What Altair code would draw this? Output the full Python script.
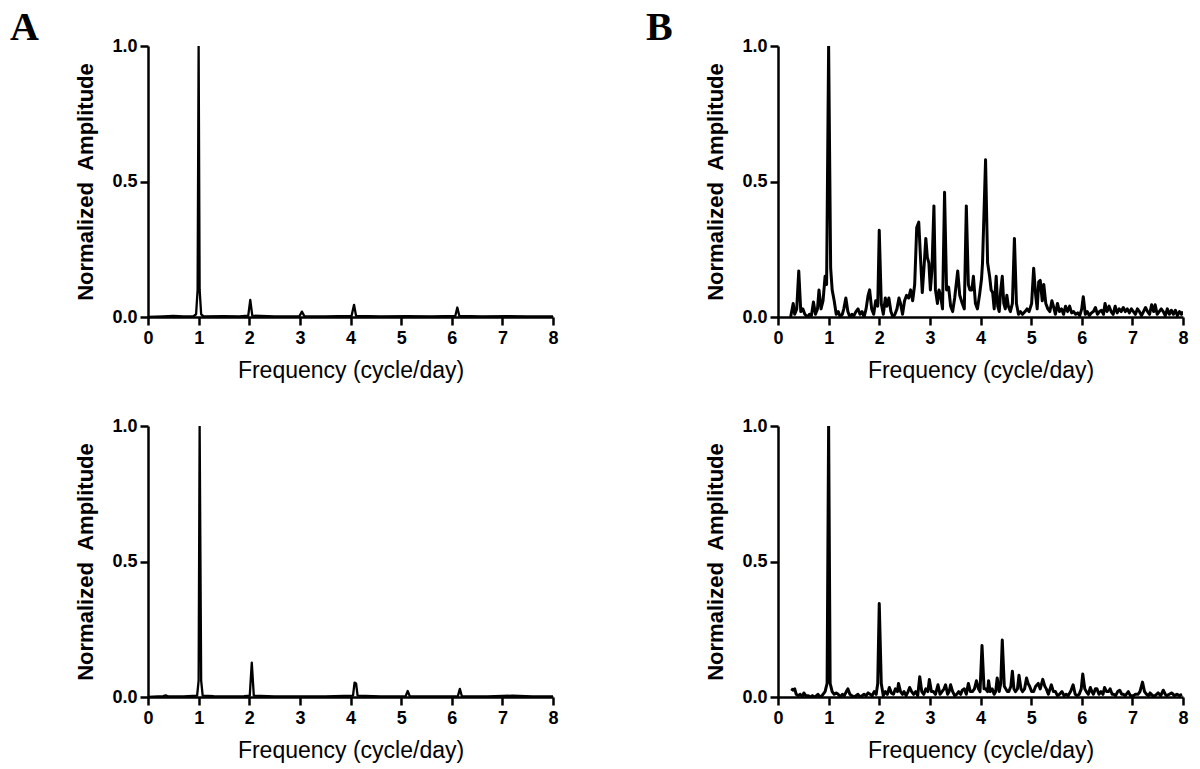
import altair as alt
import pandas as pd

# ---------------- data ----------------
a_top_freq = [0.0, 0.3, 0.5, 0.7, 0.9, 0.95, 0.98, 1.0, 1.02, 1.05, 1.1, 1.5, 1.8, 1.98, 2.02, 2.06,
              2.5, 2.99, 3.04, 3.09, 3.5, 4.02, 4.07, 4.11, 4.6, 5.1, 5.6, 6.07, 6.11, 6.15, 6.6,
              7.1, 7.5, 8.0]
a_top_amp = [0.0, 0.002, 0.004, 0.002, 0.003, 0.01, 0.1, 1.0, 0.1, 0.01, 0.002, 0.003, 0.002, 0.005,
             0.063, 0.005, 0.002, 0.003, 0.02, 0.003, 0.002, 0.004, 0.045, 0.004, 0.002, 0.003,
             0.002, 0.004, 0.035, 0.004, 0.002, 0.003, 0.002, 0.002]

a_bot_freq = [0.0, 0.3, 0.35, 0.4, 0.7, 0.97, 1.0, 1.02, 1.05, 1.08, 1.3, 1.6, 1.9, 2.01, 2.05,
              2.09, 2.5, 3.0, 3.5, 4.05, 4.08, 4.11, 4.14, 4.6, 5.09, 5.13, 5.17, 5.6, 6.12,
              6.16, 6.2, 6.7, 7.2, 7.6, 8.0]
a_bot_amp = [0.0, 0.003, 0.006, 0.002, 0.002, 0.005, 0.06, 1.0, 0.06, 0.005, 0.003, 0.002, 0.003,
             0.005, 0.127, 0.005, 0.002, 0.002, 0.002, 0.005, 0.053, 0.05, 0.005, 0.002, 0.003,
             0.022, 0.003, 0.002, 0.003, 0.03, 0.003, 0.002, 0.005, 0.002, 0.002]

b_top_freq = [0.25, 0.30, 0.33, 0.37, 0.41, 0.45, 0.49, 0.53, 0.58, 0.62, 0.66, 0.70, 0.74, 0.78,
              0.81, 0.85, 0.89, 0.93, 0.96, 1.00, 1.04, 1.07, 1.11, 1.15, 1.19, 1.23, 1.27, 1.30,
              1.34, 1.38, 1.42, 1.46, 1.50, 1.54, 1.58, 1.62, 1.66, 1.70, 1.74, 1.78, 1.81, 1.85,
              1.89, 1.93, 1.97, 2.00, 2.04, 2.08, 2.12, 2.15, 2.19, 2.23, 2.27, 2.31, 2.35, 2.39,
              2.42, 2.46, 2.50, 2.54, 2.58, 2.62, 2.66, 2.70, 2.74, 2.78, 2.82, 2.85, 2.89, 2.92,
              2.95, 2.98, 3.01, 3.04, 3.08, 3.11, 3.15, 3.18, 3.21, 3.25, 3.29, 3.33, 3.37, 3.41,
              3.45, 3.49, 3.55, 3.59, 3.64, 3.68, 3.72, 3.76, 3.79, 3.83, 3.86, 3.90, 3.94, 3.98,
              4.02, 4.04, 4.10, 4.14, 4.18, 4.21, 4.24, 4.27, 4.31, 4.34, 4.37, 4.40, 4.43, 4.46,
              4.49, 4.52, 4.55, 4.59, 4.63, 4.67, 4.71, 4.75, 4.79, 4.83, 4.88, 4.92, 4.96, 5.01,
              5.05, 5.09, 5.12, 5.15, 5.18, 5.22, 5.25, 5.29, 5.33, 5.37, 5.41, 5.44, 5.48, 5.52,
              5.56, 5.60, 5.64, 5.68, 5.72, 5.76, 5.80, 5.84, 5.88, 5.92, 5.96, 6.00, 6.03, 6.07,
              6.11, 6.15, 6.19, 6.23, 6.27, 6.31, 6.35, 6.39, 6.43, 6.46, 6.50, 6.54, 6.58, 6.62,
              6.66, 6.70, 6.74, 6.78, 6.82, 6.86, 6.90, 6.94, 6.98, 7.02, 7.06, 7.10, 7.14, 7.18,
              7.22, 7.26, 7.30, 7.34, 7.38, 7.42, 7.45, 7.49, 7.53, 7.57, 7.61, 7.65, 7.69, 7.73,
              7.77, 7.81, 7.85, 7.89, 7.93, 7.97, 8.00]
b_top_amp = [0.0, 0.05, 0.01, 0.03, 0.17, 0.02, 0.03, 0.01, 0.0, 0.01, 0.005, 0.055, 0.01, 0.03,
             0.10, 0.03, 0.06, 0.15, 0.12, 1.00, 0.18, 0.10, 0.06, 0.01, 0.02, 0.0, 0.01, 0.03,
             0.07, 0.02, 0.0, 0.01, 0.005, 0.02, 0.03, 0.01, 0.02, 0.0, 0.03, 0.08, 0.10, 0.03,
             0.01, 0.06, 0.04, 0.32, 0.05, 0.01, 0.07, 0.04, 0.07, 0.02, 0.0, 0.01, 0.03, 0.07,
             0.05, 0.01, 0.06, 0.08, 0.07, 0.10, 0.06, 0.12, 0.33, 0.35, 0.20, 0.09, 0.20, 0.29,
             0.22, 0.20, 0.10, 0.17, 0.41, 0.10, 0.05, 0.10, 0.08, 0.03, 0.46, 0.10, 0.11, 0.04,
             0.02, 0.07, 0.17, 0.08, 0.05, 0.03, 0.41, 0.12, 0.10, 0.10, 0.15, 0.05, 0.03, 0.08,
             0.14, 0.20, 0.58, 0.20, 0.15, 0.10, 0.09, 0.03, 0.15, 0.04, 0.02, 0.10, 0.15, 0.05,
             0.03, 0.08, 0.04, 0.02, 0.05, 0.29, 0.05, 0.01, 0.02, 0.01, 0.02, 0.03, 0.02, 0.05,
             0.18, 0.08, 0.03, 0.13, 0.135, 0.06, 0.12, 0.05, 0.03, 0.02, 0.06, 0.04, 0.01, 0.05,
             0.02, 0.03, 0.01, 0.04, 0.02, 0.04, 0.015, 0.02, 0.01, 0.015, 0.005, 0.03, 0.075, 0.01,
             0.02, 0.005, 0.015, 0.02, 0.035, 0.01, 0.02, 0.025, 0.01, 0.05, 0.02, 0.04, 0.02, 0.01,
             0.04, 0.015, 0.03, 0.02, 0.035, 0.02, 0.03, 0.015, 0.03, 0.02, 0.01, 0.03, 0.02, 0.005,
             0.02, 0.035, 0.02, 0.01, 0.045, 0.02, 0.045, 0.01, 0.02, 0.03, 0.02, 0.005, 0.03, 0.01,
             0.025, 0.01, 0.025, 0.005, 0.02, 0.01, 0.02]

b_bot_freq = [0.26, 0.30, 0.33, 0.36, 0.40, 0.44, 0.48, 0.51, 0.55, 0.60, 0.64, 0.68, 0.72, 0.76,
              0.79, 0.83, 0.87, 0.93, 0.97, 1.00, 1.03, 1.07, 1.11, 1.15, 1.19, 1.23, 1.27, 1.31,
              1.35, 1.38, 1.42, 1.46, 1.50, 1.54, 1.58, 1.62, 1.66, 1.70, 1.74, 1.78, 1.82, 1.86,
              1.90, 1.94, 1.97, 2.00, 2.04, 2.08, 2.12, 2.16, 2.20, 2.24, 2.28, 2.32, 2.36, 2.38,
              2.42, 2.46, 2.49, 2.53, 2.57, 2.60, 2.64, 2.68, 2.72, 2.76, 2.80, 2.84, 2.88, 2.92,
              2.96, 2.99, 3.03, 3.07, 3.11, 3.16, 3.20, 3.24, 3.28, 3.31, 3.35, 3.38, 3.41, 3.45,
              3.49, 3.53, 3.57, 3.61, 3.64, 3.68, 3.72, 3.76, 3.80, 3.84, 3.88, 3.92, 3.96, 3.99,
              4.03, 4.07, 4.10, 4.14, 4.16, 4.19, 4.23, 4.27, 4.30, 4.33, 4.37, 4.40, 4.43, 4.47,
              4.50, 4.53, 4.56, 4.60, 4.63, 4.66, 4.69, 4.73, 4.76, 4.80, 4.83, 4.87, 4.91, 4.94,
              4.97, 5.01, 5.05, 5.09, 5.14, 5.18, 5.23, 5.27, 5.30, 5.34, 5.40, 5.44, 5.48, 5.52,
              5.56, 5.61, 5.65, 5.69, 5.73, 5.78, 5.83, 5.87, 5.91, 5.95, 5.99, 6.02, 6.06, 6.09,
              6.13, 6.17, 6.20, 6.23, 6.27, 6.30, 6.34, 6.38, 6.42, 6.45, 6.49, 6.53, 6.56, 6.60,
              6.63, 6.67, 6.71, 6.75, 6.79, 6.82, 6.86, 6.92, 6.96, 7.02, 7.06, 7.11, 7.15, 7.20,
              7.24, 7.28, 7.32, 7.35, 7.40, 7.45, 7.51, 7.56, 7.61, 7.65, 7.68, 7.73, 7.78, 7.83,
              7.88, 7.93, 7.98]
b_bot_amp = [0.03, 0.025, 0.03, 0.01, 0.005, 0.01, 0.0, 0.015, 0.005, 0.005, 0.0, 0.005, 0.0, 0.005,
             0.01, 0.0, 0.005, 0.02, 0.05, 1.00, 0.05, 0.02, 0.01, 0.015, 0.01, 0.0, 0.01, 0.005,
             0.02, 0.03, 0.01, 0.005, 0.0, 0.005, 0.01, 0.0, 0.005, 0.01, 0.005, 0.015, 0.01, 0.005,
             0.02, 0.01, 0.05, 0.345, 0.05, 0.005, 0.02, 0.01, 0.035, 0.015, 0.01, 0.03, 0.02, 0.05,
             0.02, 0.01, 0.02, 0.005, 0.02, 0.035, 0.02, 0.01, 0.02, 0.005, 0.075, 0.02, 0.01, 0.03,
             0.02, 0.065, 0.02, 0.02, 0.01, 0.045, 0.01, 0.02, 0.03, 0.045, 0.01, 0.02, 0.045, 0.02,
             0.005, 0.01, 0.02, 0.01, 0.025, 0.03, 0.01, 0.05, 0.02, 0.02, 0.03, 0.06, 0.03, 0.02,
             0.19, 0.03, 0.03, 0.02, 0.06, 0.02, 0.03, 0.01, 0.02, 0.07, 0.02, 0.05, 0.21, 0.04,
             0.03, 0.02, 0.02, 0.04, 0.095, 0.03, 0.02, 0.03, 0.08, 0.03, 0.02, 0.03, 0.07, 0.05,
             0.04, 0.02, 0.02, 0.04, 0.05, 0.03, 0.065, 0.04, 0.03, 0.01, 0.045, 0.02, 0.02, 0.005,
             0.01, 0.02, 0.005, 0.01, 0.005, 0.02, 0.045, 0.01, 0.005, 0.01, 0.03, 0.085, 0.03, 0.02,
             0.01, 0.035, 0.02, 0.01, 0.03, 0.03, 0.01, 0.02, 0.01, 0.035, 0.02, 0.02, 0.03, 0.01,
             0.01, 0.005, 0.02, 0.025, 0.01, 0.01, 0.005, 0.02, 0.005, 0.005, 0.01, 0.01, 0.02, 0.055,
             0.02, 0.01, 0.005, 0.015, 0.005, 0.005, 0.015, 0.005, 0.025, 0.01, 0.005, 0.01, 0.015, 0.005,
             0.01, 0.005, 0.01]

x_ticks = [0, 1, 2, 3, 4, 5, 6, 7, 8]
y_ticks = [0.0, 0.5, 1.0]
x_title = "Frequency (cycle/day)"
y_title = "Normalized\u00a0 Amplitude"

W, H = 405, 271
FONT = "Liberation Sans"


def panel(freq, amp, stroke, letter=None, letter_dx=-138):
    df = pd.DataFrame({"f": freq, "a": amp})
    props = dict(width=W, height=H)
    if letter:
        props["title"] = alt.Title(letter, anchor="start", frame="group", font="Liberation Serif",
                                   fontSize=40, fontWeight="bold", color="black",
                                   dx=letter_dx, offset=0, baseline="alphabetic", dy=43)
    return alt.Chart(df).mark_line(color="black", strokeWidth=stroke, clip=True,
                                   strokeJoin="round").encode(
        x=alt.X("f:Q", scale=alt.Scale(domain=[0, 8], nice=False),
                axis=alt.Axis(values=x_ticks, title=x_title, labelFlush=False,
                              titleFontWeight="normal", titleFontSize=23, titlePadding=12,
                              labelPadding=4, format="d")),
        y=alt.Y("a:Q", scale=alt.Scale(domain=[0, 1], nice=False),
                axis=alt.Axis(values=y_ticks, title=y_title, format=".1f",
                              titleFontWeight="bold", titleFontSize=22, titlePadding=14,
                              labelPadding=3)),
    ).properties(**props)


tl = panel(a_top_freq, a_top_amp, 2.3, "A", -138)
tr = panel(b_top_freq, b_top_amp, 3.0, "B", -132)
bl = panel(a_bot_freq, a_bot_amp, 2.3)
br = panel(b_bot_freq, b_bot_amp, 3.0)

chart = alt.concat(tl, tr, bl, br, columns=2, spacing={"row": 35, "column": 87}).properties(
    padding={"left": 2, "top": 0, "right": 2, "bottom": 2}, background="white"
).configure_view(stroke=None).configure_axis(
    grid=False, domainColor="black", domainWidth=2.5, tickColor="black", tickWidth=2.5,
    tickSize=8, labelFont=FONT, labelFontSize=18, labelFontWeight="bold", labelColor="black",
    titleFont=FONT, titleColor="black"
)

chart.save("out.html", embed_options={"renderer": "svg", "actions": False})
